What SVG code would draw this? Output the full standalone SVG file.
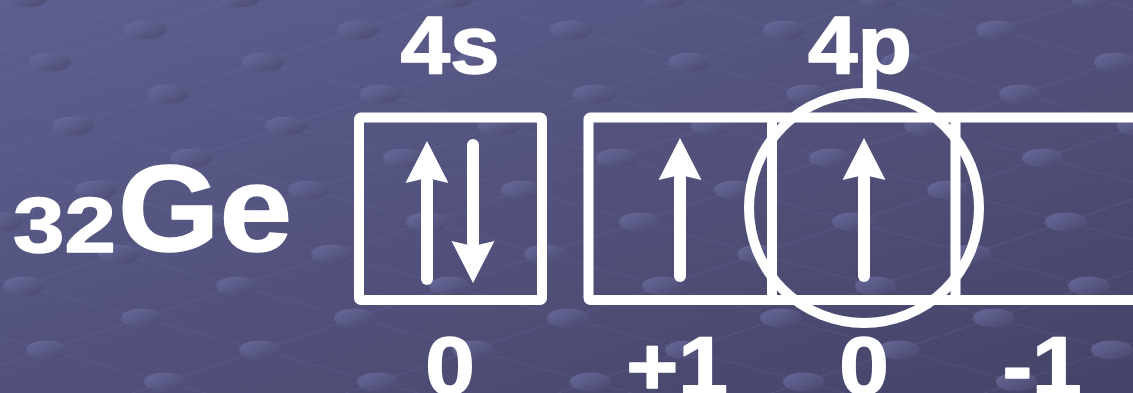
<svg xmlns="http://www.w3.org/2000/svg" width="1133" height="393" viewBox="0 0 1133 393">
<style>
.lbl{font-family:"Liberation Sans",Arial,sans-serif;font-weight:bold;fill:#fff;stroke:#fff;stroke-width:1.5;stroke-linejoin:round;text-anchor:middle}
.box{fill:none;stroke:#fff;stroke-width:10;stroke-linejoin:round}
.shaft{stroke:#fff;stroke-width:12;stroke-linecap:round;fill:none}
.head{fill:#fff}
</style>
<defs>
<linearGradient id="bg" x1="0" y1="0" x2="1" y2="1">
<stop offset="0" stop-color="#5e5f90"/>
<stop offset="1" stop-color="#444367"/>
</linearGradient>
<linearGradient id="dotg" x1="0" y1="0" x2="1" y2="1">
<stop offset="0" stop-color="#6f70a3"/>
<stop offset="1" stop-color="#46466c"/>
</linearGradient>
<pattern id="grid" patternUnits="userSpaceOnUse" width="100" height="100" patternTransform="matrix(1.18 0.32 0.95 -0.32 50 62)">
<path d="M0 0H100M0 100H100M0 0V100M100 0V100" stroke="#7374a6" stroke-opacity="0.25" stroke-width="1.4" fill="none"/>
<g fill="url(#dotg)" fill-opacity="0.85">
<ellipse cx="0" cy="0" rx="21" ry="9.5" transform="translate(0 0) matrix(0.4695 0.4695 1.3938 -1.7312 0 0)"/>
<ellipse cx="0" cy="0" rx="21" ry="9.5" transform="translate(100 0) matrix(0.4695 0.4695 1.3938 -1.7312 0 0)"/>
<ellipse cx="0" cy="0" rx="21" ry="9.5" transform="translate(0 100) matrix(0.4695 0.4695 1.3938 -1.7312 0 0)"/>
<ellipse cx="0" cy="0" rx="21" ry="9.5" transform="translate(100 100) matrix(0.4695 0.4695 1.3938 -1.7312 0 0)"/>
</g>
</pattern>
<g id="up">
<line class="shaft" x1="0" y1="40" x2="0" y2="138"/>
<path class="head" d="M0 0L21.5 42L0 37L-21.5 42Z"/>
</g>
</defs>
<rect width="1133" height="393" fill="url(#bg)"/>
<rect width="1133" height="393" fill="url(#grid)"/>

<g id="element">
<text class="lbl" transform="translate(13 252) scale(1.2 1)" style="text-anchor:start;font-size:77px">32</text>
<text class="lbl" transform="translate(118 251) scale(1.07 1)" style="text-anchor:start;font-size:122px">Ge</text>
</g>

<g id="orbital-4s">
<text class="lbl" transform="translate(450 73) scale(1.1 1)" style="font-size:81px">4s</text>
<rect class="box" x="359" y="117.5" width="183" height="182.5" rx="2"/>
<use href="#up" transform="translate(427 141)"/>
<use href="#up" transform="translate(473 283) rotate(180)"/>
<text class="lbl" transform="translate(450 394) scale(1.1 1)" style="font-size:81px">0</text>
</g>

<g id="orbital-4p">
<text class="lbl" transform="translate(860 73) scale(1.1 1)" style="font-size:81px">4p</text>
<rect class="box" x="588.5" y="117.5" width="560" height="182.5" rx="2"/>
<line class="box" x1="772" y1="117.5" x2="772" y2="300"/>
<line class="box" x1="955.5" y1="117.5" x2="955.5" y2="300"/>
<use href="#up" transform="translate(680 138)"/>
<use href="#up" transform="translate(864 138)"/>
<text class="lbl" transform="translate(677 394) scale(1.1 1)" style="font-size:81px">+1</text>
<text class="lbl" transform="translate(864 394) scale(1.1 1)" style="font-size:81px">0</text>
<text class="lbl" transform="translate(1042 394) scale(1.1 1)" style="font-size:81px">-1</text>
</g>

<g id="connectors">
<circle cx="864" cy="208" r="115" fill="none" stroke="#fff" stroke-width="10"/>
</g>
</svg>
